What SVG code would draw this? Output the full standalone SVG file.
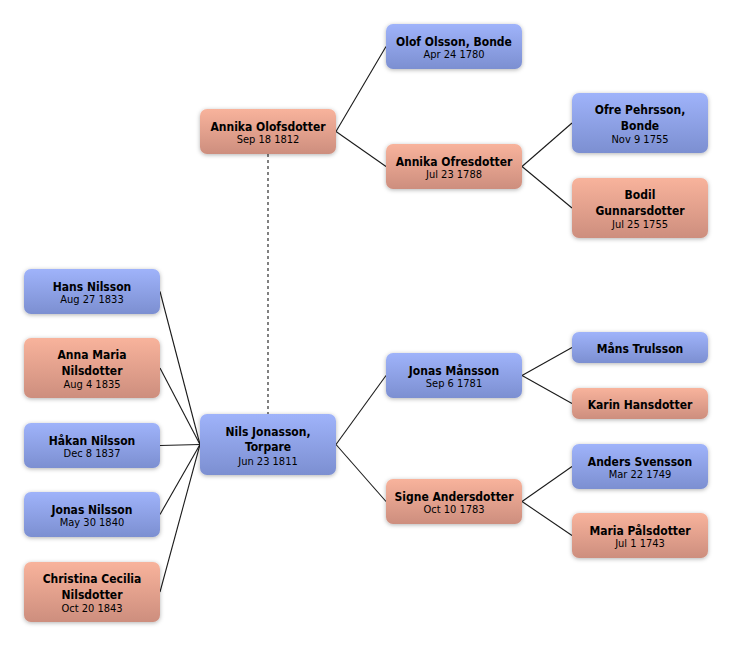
<svg xmlns="http://www.w3.org/2000/svg" width="732" height="646" viewBox="0 0 732 646">
<defs>
<linearGradient id="gb" x1="0" y1="0" x2="0" y2="1"><stop offset="0" stop-color="#9fb3fa"/><stop offset="1" stop-color="#7c8fd1"/></linearGradient>
<linearGradient id="gp" x1="0" y1="0" x2="0" y2="1"><stop offset="0" stop-color="#f8b39c"/><stop offset="1" stop-color="#cd8e7e"/></linearGradient>
<filter id="sh" x="-10%" y="-20%" width="120%" height="150%"><feDropShadow dx="0" dy="1" stdDeviation="2" flood-color="#000" flood-opacity="0.3"/></filter>
</defs>
<style>
.b{fill:url(#gb);filter:url(#sh)}
.p{fill:url(#gp);filter:url(#sh)}
text{font-family:"DejaVu Sans Condensed","DejaVu Sans",sans-serif;font-stretch:condensed;text-anchor:middle;fill:#000}
.n{font-size:12px;font-weight:bold}
.d{font-size:11px}
.c line{stroke:#1a1a1a;stroke-width:1.1}
.dash{stroke:#777;stroke-width:2;stroke-dasharray:3 3}
</style>
<rect width="732" height="646" fill="#fff"/>
<g class="c" id="connectors">
<line class="dash" x1="268" y1="154" x2="268" y2="414"/>
<line x1="336" y1="131.5" x2="386" y2="46.5"/>
<line x1="336" y1="131.5" x2="386" y2="166.5"/>
<line x1="522" y1="166.5" x2="572" y2="123"/>
<line x1="522" y1="166.5" x2="572" y2="208"/>
<line x1="200" y1="444.5" x2="160" y2="291.5"/>
<line x1="200" y1="444.5" x2="160" y2="368"/>
<line x1="200" y1="444.5" x2="160" y2="445.5"/>
<line x1="200" y1="444.5" x2="160" y2="514.5"/>
<line x1="200" y1="444.5" x2="160" y2="592"/>
<line x1="336" y1="444.5" x2="386" y2="375.5"/>
<line x1="336" y1="444.5" x2="386" y2="501.5"/>
<line x1="522" y1="375.5" x2="572" y2="347.5"/>
<line x1="522" y1="375.5" x2="572" y2="403.5"/>
<line x1="522" y1="501.5" x2="572" y2="466.5"/>
<line x1="522" y1="501.5" x2="572" y2="535.5"/>
</g>
<g id="olof"><rect class="b" x="386" y="24" width="136" height="45" rx="7"/><text class="n" x="454" y="45.5">Olof Olsson, Bonde</text><text class="d" x="454" y="57.5">Apr 24 1780</text></g>
<g id="annika-olofsdotter"><rect class="p" x="200" y="109" width="136" height="45" rx="7"/><text class="n" x="268" y="130.5">Annika Olofsdotter</text><text class="d" x="268" y="142.5">Sep 18 1812</text></g>
<g id="annika-ofresdotter"><rect class="p" x="386" y="144" width="136" height="45" rx="7"/><text class="n" x="454" y="165.5">Annika Ofresdotter</text><text class="d" x="454" y="177.5">Jul 23 1788</text></g>
<g id="ofre"><rect class="b" x="572" y="93" width="136" height="60" rx="7"/><text class="n" x="640" y="114">Ofre Pehrsson,</text><text class="n" x="640" y="129.5">Bonde</text><text class="d" x="640" y="142.5">Nov 9 1755</text></g>
<g id="bodil"><rect class="p" x="572" y="178" width="136" height="60" rx="7"/><text class="n" x="640" y="199">Bodil</text><text class="n" x="640" y="214.5">Gunnarsdotter</text><text class="d" x="640" y="227.5">Jul 25 1755</text></g>
<g id="hans"><rect class="b" x="24" y="269" width="136" height="45" rx="7"/><text class="n" x="92" y="290.5">Hans Nilsson</text><text class="d" x="92" y="302.5">Aug 27 1833</text></g>
<g id="anna-maria"><rect class="p" x="24" y="338" width="136" height="60" rx="7"/><text class="n" x="92" y="359">Anna Maria</text><text class="n" x="92" y="374.5">Nilsdotter</text><text class="d" x="92" y="387.5">Aug 4 1835</text></g>
<g id="hakan"><rect class="b" x="24" y="423" width="136" height="45" rx="7"/><text class="n" x="92" y="444.5">Håkan Nilsson</text><text class="d" x="92" y="456.5">Dec 8 1837</text></g>
<g id="jonas-nilsson"><rect class="b" x="24" y="492" width="136" height="45" rx="7"/><text class="n" x="92" y="513.5">Jonas Nilsson</text><text class="d" x="92" y="525.5">May 30 1840</text></g>
<g id="christina"><rect class="p" x="24" y="562" width="136" height="60" rx="7"/><text class="n" x="92" y="583">Christina Cecilia</text><text class="n" x="92" y="598.5">Nilsdotter</text><text class="d" x="92" y="611.5">Oct 20 1843</text></g>
<g id="nils"><rect class="b" x="200" y="414" width="136" height="61" rx="7"/><text class="n" x="268" y="435.5">Nils Jonasson,</text><text class="n" x="268" y="451">Torpare</text><text class="d" x="268" y="464.5">Jun 23 1811</text></g>
<g id="jonas-mansson"><rect class="b" x="386" y="353" width="136" height="45" rx="7"/><text class="n" x="454" y="374.5">Jonas Månsson</text><text class="d" x="454" y="386.5">Sep 6 1781</text></g>
<g id="signe"><rect class="p" x="386" y="479" width="136" height="45" rx="7"/><text class="n" x="454" y="500.5">Signe Andersdotter</text><text class="d" x="454" y="512.5">Oct 10 1783</text></g>
<g id="mans"><rect class="b" x="572" y="332" width="136" height="31" rx="7"/><text class="n" x="640" y="352.5">Måns Trulsson</text></g>
<g id="karin"><rect class="p" x="572" y="388" width="136" height="31" rx="7"/><text class="n" x="640" y="408.5">Karin Hansdotter</text></g>
<g id="anders"><rect class="b" x="572" y="444" width="136" height="45" rx="7"/><text class="n" x="640" y="465.5">Anders Svensson</text><text class="d" x="640" y="477.5">Mar 22 1749</text></g>
<g id="maria"><rect class="p" x="572" y="513" width="136" height="45" rx="7"/><text class="n" x="640" y="534.5">Maria Pålsdotter</text><text class="d" x="640" y="546.5">Jul 1 1743</text></g>
</svg>
